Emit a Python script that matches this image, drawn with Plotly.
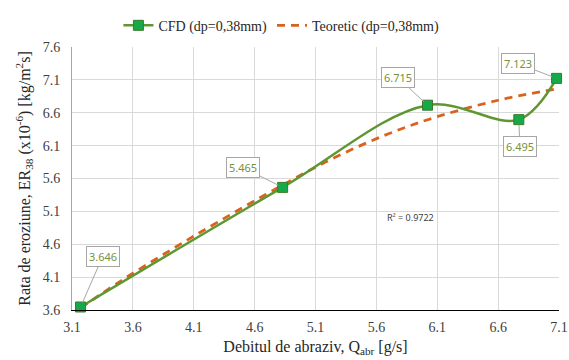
import plotly.graph_objects as go

# CFD series
cfd_x = [3.17, 4.83, 6.02, 6.77, 7.08]
cfd_y = [3.646, 5.465, 6.715, 6.495, 7.123]
cfd_labels = ["3.646", "5.465", "6.715", "6.495", "7.123"]

# Theoretic curve
teo_x = [3.17, 3.5, 3.9, 4.3, 4.83, 5.27, 5.7, 6.1, 6.6, 7.07]
teo_y = [3.63, 4.04, 4.50, 4.94, 5.50, 5.93, 6.28, 6.54, 6.79, 6.96]

r2_text = "R² = 0.9722"

# label offsets in pixels (box relative to marker)
label_ax = [22, -40, -30, 1, -39]
label_ay = [-50, -20, -28, 27, -15]

SERIF = "Liberation Serif"

fig = go.Figure()
fig.add_trace(go.Scatter(
    x=teo_x, y=teo_y, mode="lines", name="Teoretic (dp=0,38mm)",
    line=dict(color="#D9631E", width=2.8, dash="8px,6px", shape="spline", smoothing=1.0),
    cliponaxis=False,
))
fig.add_trace(go.Scatter(
    x=cfd_x, y=cfd_y, mode="lines+markers", name="CFD (dp=0,38mm)",
    line=dict(color="#5E9732", width=2.5, shape="spline", smoothing=1.0),
    marker=dict(symbol="square", size=10, color="#16A94A", line=dict(color="#3C7A28", width=1)),
    cliponaxis=False,
))

for x, y, t, ax, ay in zip(cfd_x, cfd_y, cfd_labels, label_ax, label_ay):
    fig.add_annotation(
        x=x, y=y, text=t, showarrow=True, ax=ax, ay=ay,
        arrowhead=0, arrowwidth=1, arrowcolor="#A6A6A6", standoff=5,
        bordercolor="#A6A6A6", borderwidth=1, bgcolor="white", borderpad=2,
        font=dict(family="Noto Sans", size=11, color="#76923C"),
    )

fig.add_annotation(
    x=5.88, y=5.0, text=r2_text, showarrow=False,
    font=dict(family="Noto Sans", size=9, color="#404040"),
)

fig.update_layout(
    width=569, height=360,
    font=dict(family=SERIF, size=14, color="#404040"),
    margin=dict(l=72, r=10, t=40, b=50),
    paper_bgcolor="white", plot_bgcolor="white",
    legend=dict(
        orientation="h", x=0.43, xanchor="center", y=1.02, yanchor="bottom",
        font=dict(family=SERIF, size=14, color="#262626"),
        traceorder="reversed", itemwidth=30, bgcolor="rgba(0,0,0,0)",
        tracegroupgap=0,
    ),
    xaxis=dict(
        range=[3.1, 7.1], tick0=3.1, dtick=0.5, showgrid=True, gridcolor="#D9D9D9",
        showline=True, linecolor="#000000", linewidth=1.3, zeroline=False,
        tickfont=dict(family=SERIF, size=14, color="#404040"), ticks="",
        ticklabelstandoff=4, automargin=False,
        title=dict(text="Debitul de abraziv, Q<sub>abr</sub> [g/s]", standoff=6,
                   font=dict(family=SERIF, size=16, color="#262626")),
    ),
    yaxis=dict(
        range=[3.6, 7.6], tick0=3.6, dtick=0.5, showgrid=True, gridcolor="#D9D9D9",
        showline=True, linecolor="#A6A6A6", linewidth=1, zeroline=False,
        tickfont=dict(family=SERIF, size=14, color="#404040"), ticks="",
        ticklabelstandoff=8, automargin=False,
        title=dict(text="Rata de eroziune, ER<sub>38</sub> (x10<sup>-6</sup>) [kg/m<sup>2</sup>s]",
                   standoff=8, font=dict(family=SERIF, size=16, color="#262626")),
    ),
    showlegend=True,
)

fig.write_html("out.html")
